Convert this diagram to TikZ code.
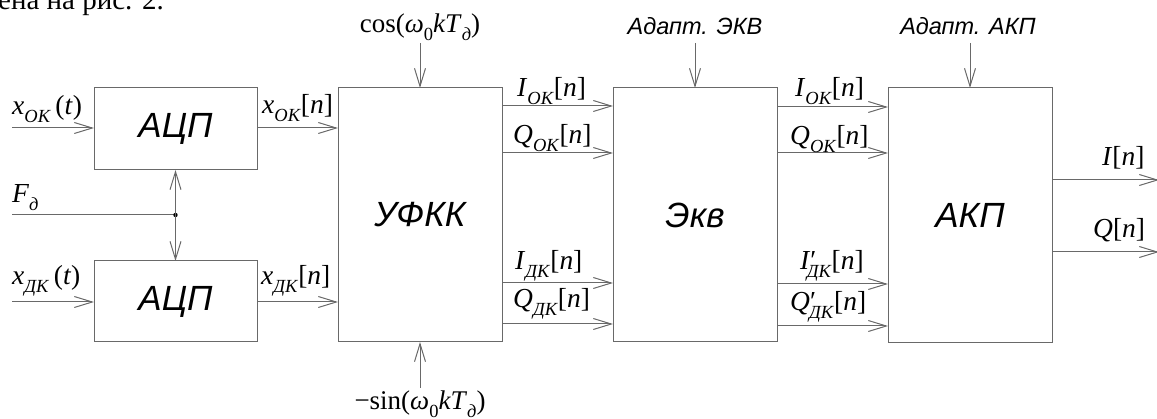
\documentclass[tikz,border=0pt]{standalone}
\usepackage{fontspec}
\setmainfont{Liberation Serif}
\setsansfont{Liberation Sans}
\usetikzlibrary{arrows.meta}
\definecolor{ln}{RGB}{105,105,105}
\newcommand\mysub[1]{\raisebox{-0.28em}{\fontsize{18.5}{20}\selectfont #1}}
\tikzset{
  blk/.style={draw=ln, line width=1pt, inner sep=0pt, outer sep=0pt,
    font=\sffamily\itshape\fontsize{35}{40}\selectfont},
  arr/.style={draw=ln, line width=1pt, -{Straight Barb[length=18pt,width=11pt,line width=1pt]}},
  wire/.style={draw=ln, line width=1pt},
  lbl/.style={anchor=base west, inner sep=0pt, font=\fontsize{27.5}{30}\selectfont},
  clbl/.style={anchor=base, inner sep=0pt, font=\fontsize{27}{30}\selectfont},
  albl/.style={anchor=base, inner sep=0pt, font=\sffamily\itshape\fontsize{23.5}{26}\selectfont}
}
\begin{document}
\begin{tikzpicture}[x=1pt,y=-1pt]
\useasboundingbox (0,0) rectangle (1157,419);
% top cut text
\node[lbl, font=\fontsize{29}{32}\selectfont] (top) at (-2,10) {ена на рис. 2.};
% blocks
\node[blk, minimum width=163pt, minimum height=82pt] (adc1) at (175.5,129) {АЦП};
\node[blk, minimum width=163pt, minimum height=81pt] (adc2) at (175.5,301.5) {АЦП};
\node[blk, minimum width=164pt, minimum height=254pt] (ufkk) at (420,215) {УФКК};
\node[blk, minimum width=164pt, minimum height=254pt] (ekv) at (695,215) {Экв};
\node[blk, minimum width=164pt, minimum height=255pt] (akp) at (970,215.5) {АКП};
% inputs
\coordinate (in1) at (12,128);
\coordinate (in2) at (12,302);
\draw[arr] (in1) -- (in1 -| adc1.west);
\draw[arr] (in2) -- (in2 -| adc2.west);
\node[lbl] (lx1) at (12,115) {\textit{x}\mysub{\textit{ОК}}\,(\textit{t})};
\node[lbl] (lx2) at (12,285) {\textit{x}\mysub{\textit{ДК}}\,(\textit{t})};
% sampling frequency
\coordinate (f) at (12,215);
\coordinate (j) at (175.5,215);
\draw[wire] (f) -- (j);
\fill[black] (j) circle (2.2pt);
\draw[arr] (j) -- (adc1.south);
\draw[arr] (j) -- (adc2.north);
\node[lbl] (lf) at (12,203) {\textit{F}\mysub{\textit{д}}};
% ADC outputs
\draw[arr] (adc1.east |- in1) -- (ufkk.west |- in1);
\draw[arr] (adc2.east |- in2) -- (ufkk.west |- in2);
\node[lbl] (lo1) at (262,114) {\textit{x}\mysub{\textit{ОК}}[\textit{n}]};
\node[lbl] (lo2) at (261,285) {\textit{x}\mysub{\textit{ДК}}[\textit{n}]};
% cos / sin
\node[clbl] (cos) at (420,33) {cos(\textit{ω}\mysub{0}\textit{kT}\mysub{\textit{д}})};
\coordinate (ct) at (420,43);
\draw[arr] (ct) -- (ufkk.north);
\node[clbl] (sin) at (420,410) {−sin(\textit{ω}\mysub{0}\textit{kT}\mysub{\textit{д}})};
\coordinate (sb) at (420,388);
\draw[arr] (sb) -- (ufkk.south);
% UFKK -> Ekv
\foreach \yy in {106,153,283,324}{
  \draw[arr] (ufkk.east |- 0,\yy) -- (ekv.west |- 0,\yy);
}
\node[lbl] (u1) at (517,97) {\textit{I}\mysub{\textit{ОК}}[\textit{n}]};
\node[lbl] (u2) at (513,144) {\textit{Q}\mysub{\textit{ОК}}[\textit{n}]};
\node[lbl] (u3) at (515,270) {\textit{I}\mysub{\textit{ДК}}[\textit{n}]};
\node[lbl] (u4) at (513,308) {\textit{Q}\mysub{\textit{ДК}}[\textit{n}]};
% adapt labels
\node[albl] (ae) at (695,35) {Адапт. ЭКВ};
\coordinate (et) at (695,43);
\draw[arr] (et) -- (ekv.north);
\node[albl] (aa) at (968,35) {Адапт. АКП};
\coordinate (at2) at (970,43);
\draw[arr] (at2) -- (akp.north);
% Ekv -> AKP
\foreach \yy in {107,153,284,326}{
  \draw[arr] (ekv.east |- 0,\yy) -- (akp.west |- 0,\yy);
}
\node[lbl] (e1) at (795,97) {\textit{I}\mysub{\textit{ОК}}[\textit{n}]};
\node[lbl] (e2) at (790,145) {\textit{Q}\mysub{\textit{ОК}}[\textit{n}]};
\node[lbl] (e3) at (800,270) {\textit{I}′\hspace{-0.35em}\mysub{\textit{ДК}}[\textit{n}]};
\node[lbl] (e4) at (790,311) {\textit{Q}′\hspace{-0.25em}\mysub{\textit{ДК}}[\textit{n}]};
% AKP outputs
\coordinate (oi) at (1159,180);
\coordinate (oq) at (1159,252);
\draw[arr] (akp.east |- oi) -- (oi);
\draw[arr] (akp.east |- oq) -- (oq);
\node[lbl] (ri) at (1102,166) {\textit{I}[\textit{n}]};
\node[lbl] (rq) at (1093,238) {\textit{Q}[\textit{n}]};
\end{tikzpicture}
\end{document}
